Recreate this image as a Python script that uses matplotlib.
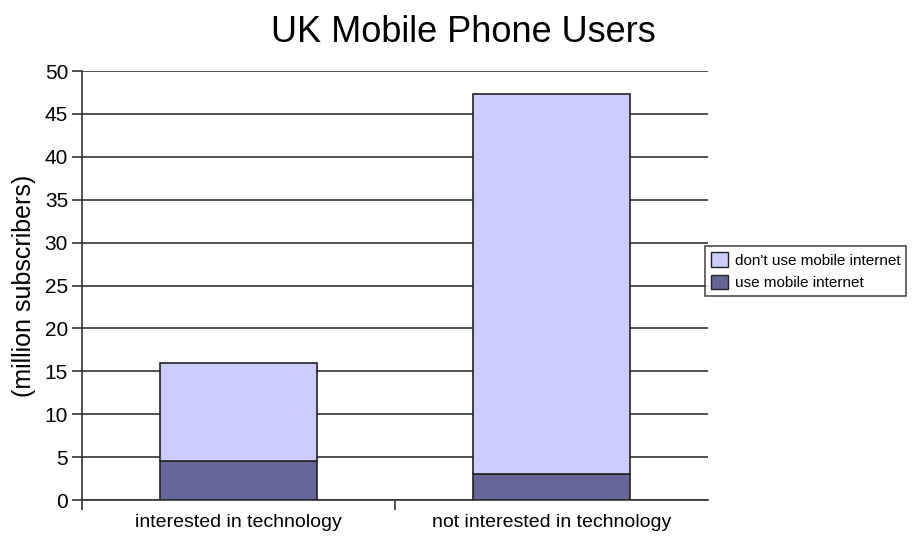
import matplotlib.pyplot as plt
import matplotlib.patches as mpatches
import numpy as np

plt.rcParams['font.family'] = ['Liberation Sans', 'DejaVu Sans']

categories = ["interested in technology", "not interested in technology"]
use_internet = [4.5, 3.0]
dont_use_internet = [11.5, 44.3]
yticks = [0, 5, 10, 15, 20, 25, 30, 35, 40, 45, 50]

dark = "#666699"
light = "#CCCCFF"

fig = plt.figure(figsize=(9.13, 5.38), dpi=100)
ax = fig.add_axes([0.0898, 0.0706, 0.6857, 0.7974])

x = np.arange(len(categories)) + 0.5
ax.bar(x, use_internet, width=0.5, color=dark, edgecolor="#222222", linewidth=1.2, zorder=3)
ax.bar(x, dont_use_internet, width=0.5, bottom=use_internet, color=light,
       edgecolor="#222222", linewidth=1.2, zorder=3)

ax.set_xlim(0, 2)
ax.set_ylim(0, 50)
ax.set_yticks(yticks)
ax.yaxis.grid(True, color="#333333", linewidth=1.2, zorder=0)
ax.set_xticks(x)
ax.set_xticklabels(categories, fontsize=14)
ax.tick_params(axis='x', length=0, pad=10)
ax.set_xticks([0, 1], minor=True)
ax.tick_params(axis='x', which='minor', length=7, width=1.2, color="#333333")
ax.tick_params(axis='y', labelsize=15, length=7, width=1.2, color="#333333", pad=3)

for s in ["top", "right"]:
    ax.spines[s].set_visible(False)
for s in ["left", "bottom"]:
    ax.spines[s].set_linewidth(1.2)
    ax.spines[s].set_color("#333333")

ax.set_ylabel("(million subscribers)", fontsize=18, labelpad=6)
fig.suptitle("UK Mobile Phone Users", fontsize=26, x=0.507, y=0.972)

handles = [mpatches.Patch(facecolor=light, edgecolor="#222222", label="don't use mobile internet"),
           mpatches.Patch(facecolor=dark, edgecolor="#222222", label="use mobile internet")]
leg = fig.legend(handles=handles, loc="center left", bbox_to_anchor=(0.772, 0.496),
                 fontsize=11, frameon=True, fancybox=False, edgecolor="#222222",
                 handlelength=1.1, handleheight=1.1, handletextpad=0.45,
                 borderpad=0.4, labelspacing=0.45, borderaxespad=0)
leg.get_frame().set_linewidth(1.2)

fig.savefig("out.png", dpi=100)
